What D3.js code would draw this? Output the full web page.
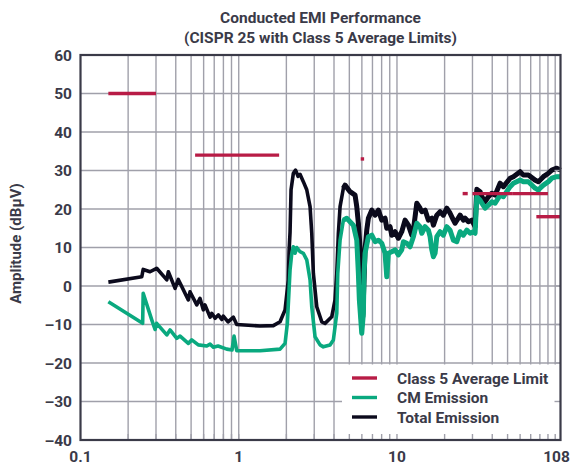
<!DOCTYPE html>
<html>
<head>
<meta charset="utf-8">
<script src="https://cdn.jsdelivr.net/npm/d3@7/dist/d3.min.js"></script>
<style>
  html, body { margin: 0; padding: 0; background: #ffffff; }
  svg text { font-family: Roboto, "Open Sans", sans-serif; font-weight: 700; fill: #3a3a48; }
</style>
</head>
<body>
<svg id="chart" width="579" height="466"></svg>
<script>
// ---- chart text ----
const titleLines = ["Conducted EMI Performance", "(CISPR 25 with Class 5 Average Limits)"];
const yAxisTitle = "Amplitude (dB\u00B5V)";

// ---- axes ----
const yTickValues = [60, 50, 40, 30, 20, 10, 0, -10, -20, -30, -40];
const xTickValues = [0.1, 1, 10, 108];
const xTickLabels = ["0.1", "1", "10", "108"];
const xGridValues = [0.2, 0.3, 0.4, 0.5, 0.6, 0.7, 0.8, 0.9, 1,
                     2, 3, 4, 5, 6, 7, 8, 9, 10,
                     20, 30, 40, 50, 60, 70, 80, 90, 100];

// ---- CISPR 25 Class 5 average limits: [start MHz, end MHz, dBuV] ----
const limitSegments = [
  [0.15, 0.3, 50],
  [0.53, 1.8, 34],
  [5.9, 6.2, 33],
  [26, 28, 24],
  [30, 54, 24],
  [54, 90, 24],
  [76, 108, 18]
];

// ---- measured spectra: [MHz, dBuV] ----
const totalEmission = [
  [0.15, 1.0], [0.244, 2.4], [0.249, 4.3], [0.275, 3.7], [0.303, 4.6],
  [0.351, 1.6], [0.359, 3.7], [0.396, -0.6], [0.415, 1.7], [0.48, -3.6],
  [0.492, -1.5], [0.543, -4.9], [0.569, -3.2], [0.597, -6.2], [0.612, -4.9],
  [0.659, -8.1], [0.675, -7.1], [0.709, -8.4], [0.743, -7.5], [0.781, -8.7],
  [0.799, -7.8], [0.856, -9.3], [0.925, -8.1], [0.971, -10.0], [1.363, -10.4],
  [1.655, -10.3], [1.824, -9.3], [1.962, -6.2], [2.058, 1.6], [2.08, 9.0],
  [2.11, 14.0], [2.141, 25.0], [2.214, 29.3], [2.286, 30.1], [2.37, 28.5],
  [2.44, 29.0], [2.56, 27.1], [2.69, 25.0], [2.823, 20.6], [2.894, 13.7],
  [2.962, 3.3], [3.112, -5.4], [3.347, -9.3], [3.512, -9.7], [3.87, -8.0],
  [4.061, -3.6], [4.164, 3.3], [4.262, 13.7], [4.369, 20.6], [4.584, 25.4],
  [4.698, 26.2], [5.051, 24.5], [5.434, 23.6], [5.571, 20.6], [5.702, 16.3],
  [5.991, 3.3], [6.079, -8.0], [6.285, 9.4], [6.443, 14.5], [6.595, 17.6],
  [6.93, 19.7], [7.271, 18.4], [7.628, 19.7], [8.015, 17.1], [8.41, 17.6],
  [8.62, 15.0], [9.045, 15.4], [9.27, 13.2], [9.727, 14.1], [10.2, 12.4],
  [10.72, 14.1], [11.25, 17.1], [11.81, 15.8], [12.41, 13.2], [12.7, 14.5],
  [13.34, 21.5], [14.0, 20.2], [14.35, 19.3], [15.06, 19.7], [15.8, 17.1],
  [16.6, 17.6], [16.99, 15.8], [17.85, 18.4], [18.73, 19.3], [19.65, 18.4],
  [20.64, 20.2], [21.66, 18.9], [22.73, 17.1], [23.3, 16.3], [25.06, 18.4],
  [26.29, 17.1], [26.95, 17.6], [28.27, 16.7], [29.7, 17.1], [31.17, 15.4],
  [31.95, 25.1], [33.52, 24.5], [34.36, 23.2], [36.06, 21.9], [37.83, 23.2],
  [39.74, 24.1], [41.7, 23.6], [44.84, 26.7], [47.06, 25.8], [51.87, 28.0],
  [54.43, 28.4], [60.0, 29.7], [62.95, 28.8], [67.7, 28.8], [74.64, 27.5],
  [78.3, 27.1], [80.27, 27.5], [84.2, 28.4], [90.6, 29.3], [95.17, 30.1],
  [102.3, 30.6], [108, 30.1]
];

const cmEmission = [
  [0.15, -4.1], [0.247, -9.7], [0.249, -1.9], [0.282, -8.8], [0.296, -11.3],
  [0.303, -9.7], [0.351, -12.7], [0.368, -11.4], [0.406, -13.6], [0.426, -13.0],
  [0.48, -14.9], [0.505, -14.0], [0.555, -15.3], [0.628, -15.6], [0.659, -15.1],
  [0.691, -15.9], [0.74, -15.6], [0.84, -16.4], [0.907, -16.6], [0.934, -13.0],
  [0.971, -16.8], [1.363, -16.8], [1.824, -16.4], [1.962, -14.9], [2.029, -9.7],
  [2.11, 4.2], [2.157, 8.0], [2.214, 10.2], [2.27, 8.5], [2.326, 10.0],
  [2.44, 8.9], [2.56, 8.5], [2.69, 6.8], [2.823, 1.6], [2.894, -5.4],
  [3.036, -13.2], [3.265, -15.3], [3.425, -15.8], [3.776, -15.3], [3.963, -14.0],
  [4.164, -7.1], [4.225, 3.3], [4.369, 11.9], [4.584, 17.1], [4.816, 17.6],
  [5.051, 16.7], [5.302, 15.8], [5.571, 11.9], [5.702, 3.3], [5.785, -3.6],
  [5.991, -12.3], [6.132, -7.1], [6.194, 3.3], [6.285, 8.5], [6.595, 12.8],
  [6.93, 13.2], [7.271, 11.5], [7.628, 11.9], [8.015, 11.1], [8.41, 8.5],
  [8.62, 2.4], [8.824, 8.5], [9.27, 8.9], [9.727, 9.4], [10.2, 8.1],
  [10.72, 9.4], [10.98, 11.5], [11.53, 11.1], [12.1, 10.2], [12.7, 12.8],
  [13.34, 16.3], [14.0, 15.4], [14.35, 13.7], [15.06, 15.4], [15.8, 14.5],
  [16.19, 12.8], [16.6, 9.4], [16.99, 7.6], [17.41, 8.5], [17.85, 12.8],
  [18.73, 14.1], [19.65, 13.2], [20.64, 15.4], [21.66, 14.5], [22.73, 11.9],
  [23.88, 11.5], [25.06, 14.1], [26.29, 13.2], [27.62, 14.5], [28.99, 13.7],
  [30.4, 14.1], [31.17, 13.7], [31.95, 23.2], [33.52, 22.3], [34.36, 21.5],
  [36.06, 20.2], [37.83, 21.0], [39.74, 21.9], [41.7, 21.5], [44.84, 23.6],
  [47.06, 23.2], [51.87, 25.8], [54.43, 26.7], [60.0, 27.5], [62.95, 27.1],
  [67.7, 27.1], [74.64, 25.4], [78.3, 24.9], [80.27, 25.4], [84.2, 26.2],
  [90.6, 27.1], [95.17, 28.0], [102.3, 28.4], [108, 28.4]
];

const legendItems = [
  { label: "Class 5 Average Limit", color: "#b81c46" },
  { label: "CM Emission", color: "#0aa97f" },
  { label: "Total Emission", color: "#0b0a1c" }
];

// ---- layout ----
const plot = { left: 80.5, right: 560.5, top: 55, bottom: 440 };
const svg = d3.select("#chart");

const x = d3.scaleLog().domain([0.1, 108]).range([plot.left, plot.right]);
const y = d3.scaleLinear().domain([-40, 60]).range([plot.bottom, plot.top]);

const gridColor = "#a0a0aa";
const frameColor = "#3a3a48";

// grid
const grid = svg.append("g");
grid.selectAll("line.v").data(xGridValues).join("line")
  .attr("x1", d => x(d)).attr("x2", d => x(d))
  .attr("y1", plot.top).attr("y2", plot.bottom)
  .attr("stroke", gridColor).attr("stroke-width", 1.4);
grid.selectAll("line.h").data(yTickValues).join("line")
  .attr("x1", plot.left).attr("x2", plot.right)
  .attr("y1", d => y(d)).attr("y2", d => y(d))
  .attr("stroke", gridColor).attr("stroke-width", 1.4);

// traces: base line, then a heavier pass over the noisy upper band (>4 MHz)
const line = d3.line().x(d => x(d[0])).y(d => y(d[1]));
function drawTrace(data, color) {
  svg.append("path").datum(data)
    .attr("d", line).attr("fill", "none")
    .attr("stroke", color).attr("stroke-width", 3.6)
    .attr("stroke-linejoin", "round");
  svg.append("path").datum(data.filter(d => d[0] >= 4.5))
    .attr("d", line).attr("fill", "none")
    .attr("stroke", color).attr("stroke-width", 5)
    .attr("stroke-linejoin", "round");
}
drawTrace(totalEmission, legendItems[2].color);
drawTrace(cmEmission, legendItems[1].color);

// limits
svg.append("g").selectAll("line").data(limitSegments).join("line")
  .attr("x1", d => x(d[0])).attr("x2", d => x(d[1]))
  .attr("y1", d => y(d[2])).attr("y2", d => y(d[2]))
  .attr("stroke", legendItems[0].color).attr("stroke-width", 3.4);

// legend panel
const legend = svg.append("g");
legend.append("rect")
  .attr("x", 342).attr("y", 364.5)
  .attr("width", plot.right - 342).attr("height", plot.bottom - 364.5)
  .attr("fill", "#ffffff");
legendItems.forEach((item, i) => {
  const ly = 378 + i * 19.5;
  legend.append("line")
    .attr("x1", 352).attr("x2", 377).attr("y1", ly).attr("y2", ly)
    .attr("stroke", item.color).attr("stroke-width", 3.4);
  legend.append("text")
    .attr("x", 397).attr("y", ly).attr("dy", "0.36em")
    .style("font-size", "15.5px").text(item.label);
});

// inner tick marks along the frame
const ticks = svg.append("g").attr("stroke", gridColor).attr("stroke-width", 1.4);
ticks.selectAll("line.b").data(xGridValues).join("line")
  .attr("x1", d => x(d)).attr("x2", d => x(d))
  .attr("y1", plot.bottom).attr("y2", plot.bottom - 6);
ticks.selectAll("line.r").data(yTickValues).join("line")
  .attr("x1", plot.right).attr("x2", plot.right - 6)
  .attr("y1", d => y(d)).attr("y2", d => y(d));

// frame
svg.append("rect")
  .attr("x", plot.left).attr("y", plot.top)
  .attr("width", plot.right - plot.left).attr("height", plot.bottom - plot.top)
  .attr("fill", "none").attr("stroke", frameColor).attr("stroke-width", 2.2);

// axis labels
svg.append("g").selectAll("text").data(yTickValues).join("text")
  .attr("x", 72).attr("y", d => y(d)).attr("dy", "0.36em")
  .attr("text-anchor", "end").style("font-size", "15.5px")
  .text(d => d < 0 ? "\u2013" + Math.abs(d) : String(d));
svg.append("g").selectAll("text").data(xTickValues).join("text")
  .attr("x", (d, i) => i === xTickValues.length - 1 ? x(d) - 4 : x(d))
  .attr("y", 462)
  .attr("text-anchor", "middle").style("font-size", "15.5px")
  .text((d, i) => xTickLabels[i]);

svg.append("text")
  .attr("transform", `translate(21,${(plot.top + plot.bottom) / 2 - 4}) rotate(-90)`)
  .attr("text-anchor", "middle").style("font-size", "15px")
  .text(yAxisTitle);

// title
svg.append("g").selectAll("text").data(titleLines).join("text")
  .attr("x", (plot.left + plot.right) / 2).attr("y", (d, i) => 23 + i * 20)
  .attr("text-anchor", "middle").style("font-size", "15.5px")
  .text(d => d);
</script>
</body>
</html>
